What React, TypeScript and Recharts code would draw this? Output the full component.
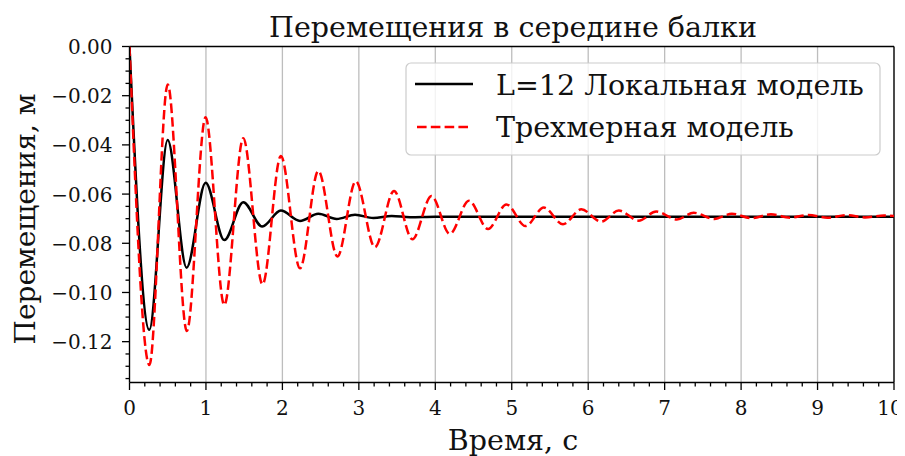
import React from "react";
import { LineChart, Line, XAxis, YAxis, CartesianGrid, ReferenceLine, Legend } from "recharts";

const chartTitle = "Перемещения в середине балки";
const xLabel = "Время, с";
const yLabel = "Перемещения, м";
const localName = "L=12 Локальная модель";
const solidName = "Трехмерная модель";

// Local model (black, solid)
const localTime = [0, 0.259, 0.499, 0.747, 0.996, 1.24, 1.488, 1.736, 1.98, 2.23, 2.47, 2.71, 2.95, 3.19, 3.43, 3.67, 4.0, 5.0, 6.0, 7.0, 8.0, 9.0, 10.0];
const localDisp = [0, -0.1152, -0.038, -0.0899, -0.0554, -0.0787, -0.0633, -0.0732, -0.0667, -0.0709, -0.068, -0.0701, -0.0684, -0.0697, -0.0689, -0.0694, -0.0692, -0.0692, -0.0692, -0.0692, -0.0692, -0.0692, -0.0692];

// 3D model (red, dashed)
const solidTime = [0, 0.26, 0.5, 0.75, 0.995, 1.24, 1.488, 1.74, 1.98, 2.23, 2.47, 2.72, 2.96, 3.21, 3.46, 3.7, 3.95, 4.19, 4.44, 4.69, 4.93, 5.18, 5.42, 5.67, 5.91, 6.17, 6.4, 6.66, 6.89, 7.16, 7.38, 7.65, 7.88, 8.14, 8.39, 8.64, 8.88, 9.13, 9.38, 9.62, 9.87, 10.0];
const solidDisp = [0, -0.1295, -0.0154, -0.1157, -0.0288, -0.1051, -0.0373, -0.0967, -0.0445, -0.0902, -0.0506, -0.0854, -0.0548, -0.0816, -0.0587, -0.0784, -0.0608, -0.0762, -0.0627, -0.0742, -0.0642, -0.073, -0.0655, -0.0723, -0.0662, -0.0712, -0.0667, -0.0708, -0.0671, -0.0703, -0.0676, -0.0701, -0.068, -0.0698, -0.0682, -0.0696, -0.0685, -0.0696, -0.0686, -0.0695, -0.0687, -0.0689];

const xMajor = [0, 1, 2, 3, 4, 5, 6, 7, 8, 9, 10];
const xMinor = [0.2, 0.4, 0.6, 0.8, 1.2, 1.4, 1.6, 1.8, 2.2, 2.4, 2.6, 2.8, 3.2, 3.4, 3.6, 3.8, 4.2, 4.4, 4.6, 4.8, 5.2, 5.4, 5.6, 5.8, 6.2, 6.4, 6.6, 6.8, 7.2, 7.4, 7.6, 7.8, 8.2, 8.4, 8.6, 8.8, 9.2, 9.4, 9.6, 9.8];
const yMajor = [0, -0.02, -0.04, -0.06, -0.08, -0.1, -0.12];
const yMinor = [-0.005, -0.01, -0.015, -0.025, -0.03, -0.035, -0.045, -0.05, -0.055, -0.065, -0.07, -0.075, -0.085, -0.09, -0.095, -0.105, -0.11, -0.115, -0.125, -0.13, -0.135];
const yDomain = [-0.1366, 0];

const localData = localTime.map((t, i) => ({ t, v: localDisp[i] }));
const solidData = solidTime.map((t, i) => ({ t, v: solidDisp[i] }));

const FONT = "DejaVu Serif";
const W = 897;
const H = 448;
const TEXT = "#111";

const fmtY = (v: number) => (v === 0 ? "0.00" : "\u2212" + Math.abs(v).toFixed(2));

const XTick = (props: any) => {
  const { x, y, payload } = props;
  const v = payload.value;
  const major = xMajor.includes(v);
  const dx = v === 10 ? -4 : 0;
  return (
    <g>
      <line x1={x} x2={x} y1={y} y2={y + (major ? 7.5 : 4)} stroke="#000" strokeWidth={1.3} />
      {major && (
        <text x={x + dx} y={y + 32} textAnchor="middle" fontSize={20} fontFamily={FONT} fill={TEXT}>
          {String(v)}
        </text>
      )}
    </g>
  );
};

const YTick = (props: any) => {
  const { x, y, payload } = props;
  const v = payload.value;
  const major = yMajor.includes(v);
  return (
    <g>
      <line x1={x} x2={x - (major ? 7.5 : 4)} y1={y} y2={y} stroke="#000" strokeWidth={1.3} />
      {major && (
        <text x={x - 17} y={y + 7.5} textAnchor="end" fontSize={20} fontFamily={FONT} fill={TEXT}>
          {fmtY(v)}
        </text>
      )}
    </g>
  );
};

const LegendBox = () => (
  <svg width={477} height={95} style={{ display: "block", overflow: "visible" }}>
    <rect x={1} y={1} width={474} height={92} rx={5} ry={5} fill="rgba(255,255,255,0.8)" stroke="#cccccc" strokeWidth={1.2} />
    <line x1={10} x2={68} y1={22} y2={22} stroke="#000" strokeWidth={2.5} />
    <text x={91} y={33} fontSize={28.5} fontFamily={FONT} fill={TEXT}>{localName}</text>
    <line x1={12} x2={66} y1={65} y2={65} stroke="#ff0000" strokeWidth={2.5} strokeDasharray="9.6 4.2" />
    <text x={91} y={75} fontSize={28.5} fontFamily={FONT} fill={TEXT}>{solidName}</text>
  </svg>
);

export default function App() {
  return (
    <div style={{ position: "relative", width: W, height: H, background: "#fff" }}>
      <LineChart
        width={W}
        height={H}
        margin={{ top: 38.5, right: 11, left: 61.5, bottom: 33.5 }}
        style={{ overflow: "visible" }}
      >
        <XAxis xAxisId="grid" type="number" dataKey="t" domain={[0, 10]} ticks={xMajor} hide allowDataOverflow />
        <CartesianGrid xAxisId="grid" horizontal={false} vertical stroke="#bdbdbd" strokeWidth={1.3} />
        <XAxis
          type="number"
          dataKey="t"
          domain={[0, 10]}
          ticks={[...xMajor, ...xMinor].sort((a, b) => a - b)}
          interval={0}
          height={40}
          tickSize={0}
          tickMargin={0}
          tickLine={false}
          tick={<XTick />}
          axisLine={{ stroke: "#000", strokeWidth: 1.3 }}
          allowDataOverflow
        />
        <YAxis
          type="number"
          domain={yDomain}
          ticks={[...yMajor, ...yMinor]}
          interval={0}
          width={60}
          tickSize={0}
          tickMargin={0}
          tickLine={false}
          tick={<YTick />}
          axisLine={{ stroke: "#000", strokeWidth: 1.3 }}
          allowDataOverflow
        />
        <ReferenceLine y={0} stroke="#000" strokeWidth={1.3} />
        <ReferenceLine x={10} stroke="#000" strokeWidth={1.3} />
        <Line
          data={localData}
          dataKey="v"
          name={localName}
          type="monotone"
          stroke="#000"
          strokeWidth={2.5}
          dot={false}
          isAnimationActive={false}
        />
        <Line
          data={solidData}
          dataKey="v"
          name={solidName}
          type="monotone"
          stroke="#ff0000"
          strokeWidth={2.5}
          strokeDasharray="9.6 4.2"
          dot={false}
          isAnimationActive={false}
        />
        <Legend
          layout="vertical"
          align="center"
          verticalAlign="middle"
          content={<LegendBox />}
          wrapperStyle={{ position: "absolute", left: 397, top: 54, width: 477, height: 95 }}
        />
      </LineChart>
      <svg width={W} height={H} style={{ position: "absolute", left: 0, top: 0, pointerEvents: "none" }}>
        <text x={505} y={28.7} textAnchor="middle" fontSize={28.5} fontFamily={FONT} fill={TEXT}>{chartTitle}</text>
        <text x={505} y={442} textAnchor="middle" fontSize={28.5} fontFamily={FONT} fill={TEXT}>{xLabel}</text>
        <text
          x={0}
          y={0}
          transform={`translate(27, 211) rotate(-90)`}
          textAnchor="middle"
          fontSize={28}
          fontFamily={FONT}
          fill={TEXT}
        >
          {yLabel}
        </text>
      </svg>
    </div>
  );
}
